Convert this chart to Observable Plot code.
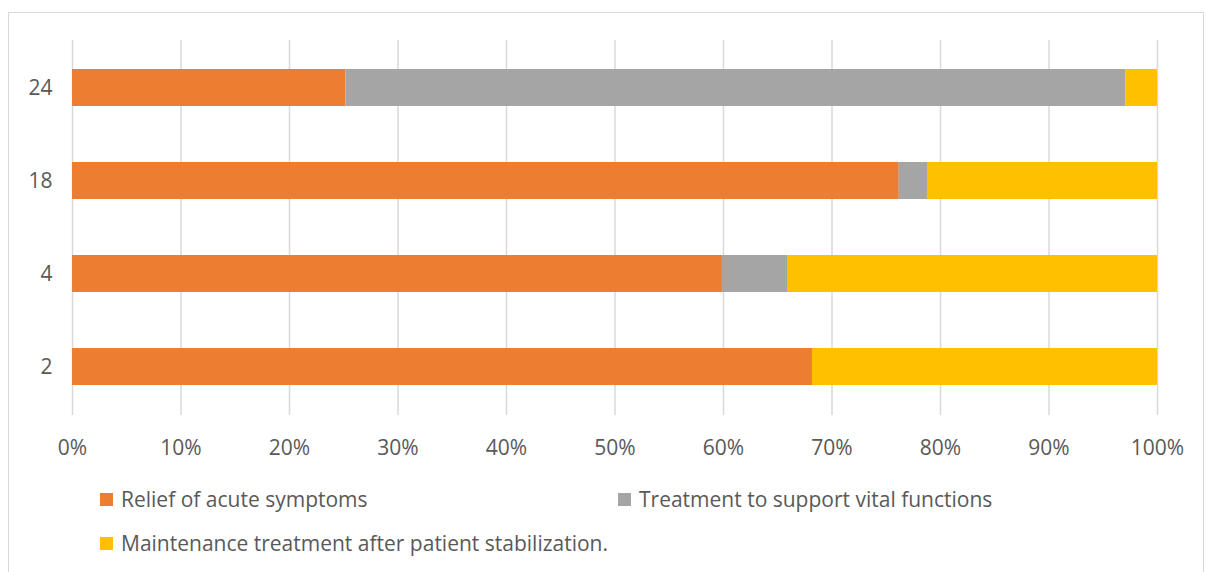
<!DOCTYPE html>
<html>
<head>
<meta charset="utf-8">
<script src="https://cdn.jsdelivr.net/npm/d3@7"></script>
<script src="https://cdn.jsdelivr.net/npm/@observablehq/plot@0.6"></script>
<style>
  html, body { margin: 0; padding: 0; background: #fff; width: 1206px; height: 572px; overflow: hidden; }
  body { position: relative; font-family: "Open Sans", sans-serif; color: #595959; }
  #frame { position: absolute; left: 8px; top: 12px; width: 1196px; height: 600px; border: 1px solid #d9d9d9; box-sizing: border-box; }
  #chart { position: absolute; left: 0; top: 0; }
  .leg { position: absolute; display: flex; align-items: center; font-size: 21px; white-space: nowrap; }
  .sw { width: 13px; height: 13px; margin-right: 8px; }
</style>
</head>
<body>
<div id="frame"></div>
<div id="chart"></div>
<div id="legend"></div>
<script>
const categories = ["24", "18", "4", "2"];
const seriesNames = [
  "Relief of acute symptoms",
  "Treatment to support vital functions",
  "Maintenance treatment after patient stabilization."
];
const seriesColors = ["#ED7D31", "#A5A5A5", "#FFC000"];
const relief = [25.2, 76.2, 59.9, 68.2];
const vital = [71.9, 2.6, 6.0, 0];
const maintenance = [2.9, 21.2, 34.1, 31.8];
const xTicks = [0, 10, 20, 30, 40, 50, 60, 70, 80, 90, 100];

const seriesValues = [relief, vital, maintenance];
const rows = [];
seriesNames.forEach((s, si) => {
  categories.forEach((c, ci) => {
    rows.push({ category: c, series: s, value: seriesValues[si][ci] });
  });
});

const chart = Plot.plot({
  width: 1206,
  height: 465,
  marginLeft: 72,
  marginRight: 49,
  marginTop: 40,
  marginBottom: 50,
  style: { fontFamily: "'Open Sans', sans-serif", fontSize: "21px", color: "#595959", background: "transparent" },
  x: { domain: [0, 100], ticks: xTicks, label: null },
  y: { domain: categories, paddingInner: 0.6, paddingOuter: 0.3, label: null },
  color: { domain: seriesNames, range: seriesColors },
  marks: [
    Plot.gridX(xTicks, { stroke: "#d9d9d9", strokeOpacity: 1, strokeWidth: 1.5 }),
    Plot.barX(rows, Plot.stackX({ y: "category", x: "value", z: "series", fill: "series", order: seriesNames })),
    Plot.axisX(xTicks, { tickSize: 0, tickPadding: 25, tickFormat: d => d + "%", fill: "#595959", fontSize: 21, label: null }),
    Plot.axisY({ tickSize: 0, tickPadding: 20, fill: "#595959", fontSize: 21, label: null })
  ]
});
document.getElementById("chart").appendChild(chart);

const legendPos = [
  { left: 100, top: 488 },
  { left: 618, top: 488 },
  { left: 100, top: 532 }
];
const legend = document.getElementById("legend");
seriesNames.forEach((s, i) => {
  const d = document.createElement("div");
  d.className = "leg";
  d.style.left = legendPos[i].left + "px";
  d.style.top = legendPos[i].top + "px";
  d.style.height = "22px";
  const sw = document.createElement("span");
  sw.className = "sw";
  sw.style.background = seriesColors[i];
  const t = document.createElement("span");
  t.textContent = s;
  d.appendChild(sw);
  d.appendChild(t);
  legend.appendChild(d);
});
</script>
</body>
</html>
